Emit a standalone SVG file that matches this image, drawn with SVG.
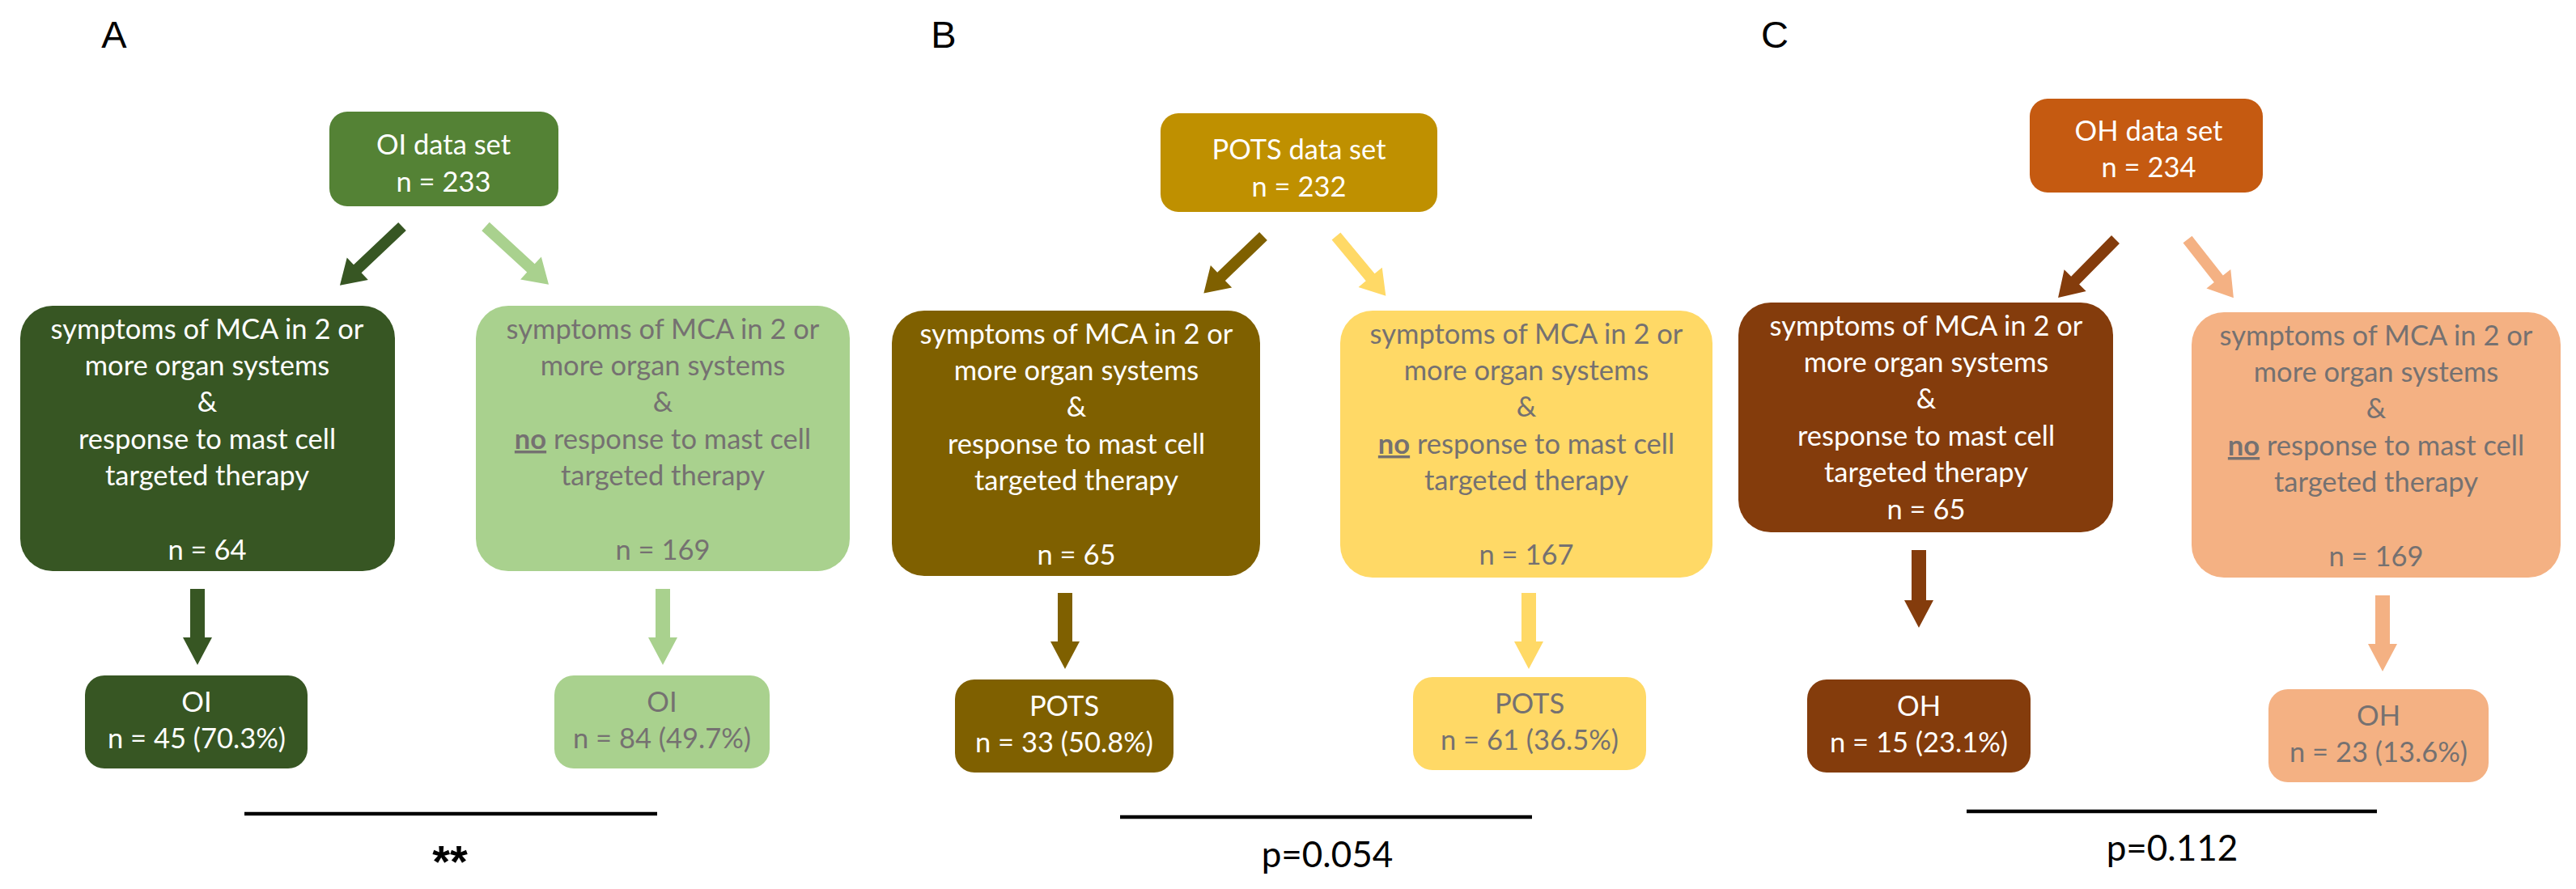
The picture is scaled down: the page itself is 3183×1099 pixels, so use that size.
<svg xmlns="http://www.w3.org/2000/svg" width="3183" height="1099" viewBox="0 0 3183 1099">
<style>
.t{font-family:Lato,'Liberation Sans',sans-serif;font-size:34.5px;text-anchor:middle}
.w{fill:#ffffff}
.g{fill:#757171}
.lbl{font-family:'Liberation Sans',Arial,sans-serif;font-size:47px;fill:#000;text-anchor:middle}
.p{font-family:Lato,'Liberation Sans',sans-serif;font-size:44px;fill:#000;text-anchor:middle}
.bar{stroke:#000;stroke-width:4.5}
</style>
<rect width="3183" height="1099" fill="#fff"/>
<text class="lbl" x="141" y="59">A</text>
<text class="lbl" x="1166" y="59">B</text>
<text class="lbl" x="2193" y="59">C</text>

<g id="a-top"><rect x="407" y="138" width="283" height="117" rx="22" fill="#548235"/>
<text class="t w" x="548" y="191">OI data set</text><text class="t w" x="548" y="237">n = 233</text></g>
<g id="a-yes"><rect x="25" y="378" width="463" height="328" rx="40" fill="#375623"/>
<text class="t w" x="256" y="419">symptoms of MCA in 2 or</text>
<text class="t w" x="256" y="464">more organ systems</text>
<text class="t w" x="256" y="509">&amp;</text>
<text class="t w" x="256" y="555">response to mast cell</text>
<text class="t w" x="256" y="600">targeted therapy</text>
<text class="t w" x="256" y="692">n = 64</text></g>
<g id="a-no"><rect x="588" y="378" width="462" height="328" rx="40" fill="#A9D18E"/>
<text class="t g" x="819" y="419">symptoms of MCA in 2 or</text>
<text class="t g" x="819" y="464">more organ systems</text>
<text class="t g" x="819" y="509">&amp;</text>
<text class="t g" x="819" y="555"><tspan font-weight="bold" text-decoration="underline">no</tspan> response to mast cell</text>
<text class="t g" x="819" y="600">targeted therapy</text>
<text class="t g" x="819" y="692">n = 169</text></g>
<g id="a-res-yes"><rect x="105" y="835" width="275" height="115" rx="24" fill="#375623"/>
<text class="t w" x="243" y="880">OI</text><text class="t w" x="243" y="925">n = 45 (70.3%)</text></g>
<g id="a-res-no"><rect x="685" y="835" width="266" height="115" rx="24" fill="#A9D18E"/>
<text class="t g" x="818" y="880">OI</text><text class="t g" x="818" y="925">n = 84 (49.7%)</text></g>

<g id="b-top"><rect x="1434" y="140" width="342" height="122" rx="22" fill="#BF9000"/>
<text class="t w" x="1605" y="197">POTS data set</text><text class="t w" x="1605" y="243">n = 232</text></g>
<g id="b-yes"><rect x="1102" y="384" width="455" height="328" rx="40" fill="#7F6000"/>
<text class="t w" x="1330" y="425">symptoms of MCA in 2 or</text>
<text class="t w" x="1330" y="470">more organ systems</text>
<text class="t w" x="1330" y="515">&amp;</text>
<text class="t w" x="1330" y="561">response to mast cell</text>
<text class="t w" x="1330" y="606">targeted therapy</text>
<text class="t w" x="1330" y="698">n = 65</text></g>
<g id="b-no"><rect x="1656" y="384" width="460" height="330" rx="40" fill="#FFD966"/>
<text class="t g" x="1886" y="425">symptoms of MCA in 2 or</text>
<text class="t g" x="1886" y="470">more organ systems</text>
<text class="t g" x="1886" y="515">&amp;</text>
<text class="t g" x="1886" y="561"><tspan font-weight="bold" text-decoration="underline">no</tspan> response to mast cell</text>
<text class="t g" x="1886" y="606">targeted therapy</text>
<text class="t g" x="1886" y="698">n = 167</text></g>
<g id="b-res-yes"><rect x="1180" y="840" width="270" height="115" rx="24" fill="#7F6000"/>
<text class="t w" x="1315" y="885">POTS</text><text class="t w" x="1315" y="930">n = 33 (50.8%)</text></g>
<g id="b-res-no"><rect x="1746" y="837" width="288" height="115" rx="24" fill="#FFD966"/>
<text class="t g" x="1890" y="882">POTS</text><text class="t g" x="1890" y="927">n = 61 (36.5%)</text></g>

<g id="c-top"><rect x="2508" y="122" width="288" height="116" rx="22" fill="#C55A11"/>
<text class="t w" x="2655" y="174">OH data set</text><text class="t w" x="2655" y="219">n = 234</text></g>
<g id="c-yes"><rect x="2148" y="374" width="463" height="284" rx="40" fill="#843C0C"/>
<text class="t w" x="2380" y="415">symptoms of MCA in 2 or</text>
<text class="t w" x="2380" y="460">more organ systems</text>
<text class="t w" x="2380" y="505">&amp;</text>
<text class="t w" x="2380" y="551">response to mast cell</text>
<text class="t w" x="2380" y="596">targeted therapy</text>
<text class="t w" x="2380" y="642">n = 65</text></g>
<g id="c-no"><rect x="2708" y="386" width="456" height="328" rx="40" fill="#F4B183"/>
<text class="t g" x="2936" y="427">symptoms of MCA in 2 or</text>
<text class="t g" x="2936" y="472">more organ systems</text>
<text class="t g" x="2936" y="517">&amp;</text>
<text class="t g" x="2936" y="563"><tspan font-weight="bold" text-decoration="underline">no</tspan> response to mast cell</text>
<text class="t g" x="2936" y="608">targeted therapy</text>
<text class="t g" x="2936" y="700">n = 169</text></g>
<g id="c-res-yes"><rect x="2233" y="840" width="276" height="115" rx="24" fill="#843C0C"/>
<text class="t w" x="2371" y="885">OH</text><text class="t w" x="2371" y="930">n = 15 (23.1%)</text></g>
<g id="c-res-no"><rect x="2803" y="852" width="272" height="115" rx="24" fill="#F4B183"/>
<text class="t g" x="2939" y="897">OH</text><text class="t g" x="2939" y="942">n = 23 (13.6%)</text></g>

<g id="connectors">
<path transform="translate(497,280) rotate(136.6)" d="M0,-7 L76,-7 L76,-19 L106,0 L76,19 L76,7 L0,7 Z" fill="#375623"/>
<path transform="translate(600,280) rotate(42.6)" d="M0,-7 L76,-7 L76,-19 L106,0 L76,19 L76,7 L0,7 Z" fill="#A9D18E"/>
<path transform="translate(1561,292) rotate(136.2)" d="M0,-7 L72,-7 L72,-19 L102,0 L72,19 L72,7 L0,7 Z" fill="#7F6000"/>
<path transform="translate(1651,292) rotate(50.3)" d="M0,-7 L66,-7 L66,-19 L96,0 L66,19 L66,7 L0,7 Z" fill="#FFD966"/>
<path transform="translate(2614,296) rotate(134.6)" d="M0,-7 L71,-7 L71,-19 L101,0 L71,19 L71,7 L0,7 Z" fill="#843C0C"/>
<path transform="translate(2703,296) rotate(51.8)" d="M0,-7 L62,-7 L62,-19 L92,0 L62,19 L62,7 L0,7 Z" fill="#F4B183"/>
<path d="M235,728 L253,728 L253,788 L262,788 L244,822 L226,788 L235,788 Z" fill="#375623"/>
<path d="M810,728 L828,728 L828,788 L837,788 L819,822 L801,788 L810,788 Z" fill="#A9D18E"/>
<path d="M1307,733 L1325,733 L1325,793 L1334,793 L1316,827 L1298,793 L1307,793 Z" fill="#7F6000"/>
<path d="M1880,733 L1898,733 L1898,793 L1907,793 L1889,827 L1871,793 L1880,793 Z" fill="#FFD966"/>
<path d="M2362,680 L2380,680 L2380,742 L2389,742 L2371,776 L2353,742 L2362,742 Z" fill="#843C0C"/>
<path d="M2935,736 L2953,736 L2953,796 L2962,796 L2944,830 L2926,796 L2935,796 Z" fill="#F4B183"/>
<line class="bar" x1="302" y1="1006" x2="812" y2="1006"/>
<line class="bar" x1="1384" y1="1010" x2="1893" y2="1010"/>
<line class="bar" x1="2430" y1="1003" x2="2937" y2="1003"/>
</g>
<text x="556" y="1084" font-family="'Liberation Sans',Arial,sans-serif" font-size="56" font-weight="bold" text-anchor="middle" fill="#000">**</text>
<text class="p" x="1640" y="1072">p=0.054</text>
<text class="p" x="2684" y="1064">p=0.112</text>
</svg>
